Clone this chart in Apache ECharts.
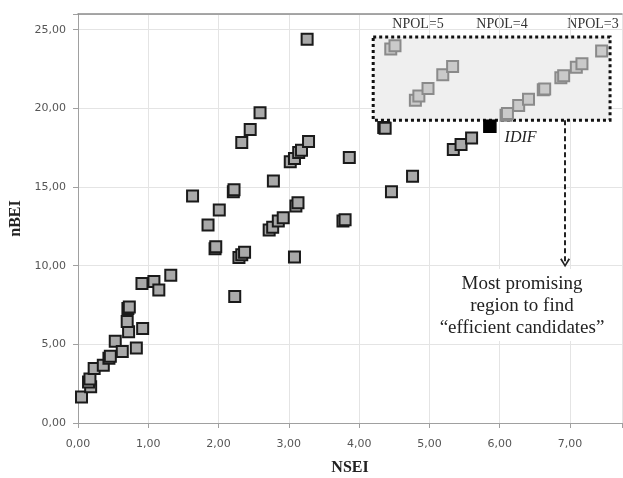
<!DOCTYPE html>
<html>
<head>
<meta charset="utf-8">
<script src="https://cdn.jsdelivr.net/npm/echarts@6/dist/echarts.min.js"></script>
<style>html,body{margin:0;padding:0;background:#fff;}#c{width:623px;height:478px;}</style>
</head>
<body>
<div id="c"></div>
<script>
// NSEI (x) / nBEI (y) values
var otherNSEI = [0.05,0.18,0.15,0.17,0.23,0.36,0.44,0.46,0.53,0.63,0.83,0.72,0.70,0.71,0.73,0.92,0.91,1.08,1.15,1.32,
  1.63,1.85,1.95,1.96,2.01,2.21,2.22,2.23,2.29,2.33,2.37,2.33,2.45,2.59,2.72,2.77,2.85,2.92,2.78,3.02,3.08,3.14,3.18,3.28,
  3.08,3.10,3.13,3.26,3.77,3.80,3.86,4.35,4.37,4.46,4.76,5.34,5.45,5.60];
var otherNBEI = [1.66,2.30,2.60,2.80,3.46,3.67,4.12,4.25,5.19,4.55,4.77,5.80,6.46,7.28,7.38,6.00,8.87,9.00,8.45,9.40,
  14.43,12.59,11.07,11.20,13.54,14.70,14.82,8.04,10.52,10.70,10.86,17.83,18.66,19.73,12.27,12.45,12.84,13.05,15.38,16.60,16.82,17.20,17.34,17.90,
  10.56,13.80,14.00,24.40,12.84,12.92,16.88,18.78,18.74,14.70,15.69,17.39,17.70,18.12];
var npolNSEI = [4.45,4.51,4.80,4.85,4.98,5.19,5.33,6.09,6.11,6.27,6.41,6.62,6.64,6.87,6.91,7.09,7.17,7.45];
var npolNBEI = [23.77,23.98,20.51,20.79,21.26,22.14,22.67,19.56,19.67,20.18,20.58,21.18,21.24,21.95,22.08,22.62,22.84,23.64];
var idifNSEI = [5.86];
var idifNBEI = [18.87];
var regionX = [4.20, 7.57];
var regionY = [19.25, 24.53];
var arrowX = 6.93;
var arrowY = [19.25, 10.18];
var xTicks = [0,1,2,3,4,5,6,7];
var yTicks = [0,5,10,15,20,25];

function pairs(xs, ys){ return xs.map(function(x,i){ return [x, ys[i]]; }); }
function fmt(v){ return v.toFixed(2).replace('.', ','); }

var chart = echarts.init(document.getElementById('c'), null, {renderer:'canvas'});
var serif = '"Liberation Serif", "DejaVu Serif", serif';
var sans = '"DejaVu Sans", Verdana, sans-serif';

var option = {
  backgroundColor: '#ffffff',
  animation: false,
  grid: {left: 78, right: 1, top: 14, bottom: 55, containLabel: false, outerBoundsMode: 'none'},
  xAxis: [{
    type: 'value', min: 0, max: 7.74, interval: 1,
    name: 'NSEI', nameLocation: 'middle', nameGap: 37,
    nameTextStyle: {fontFamily: serif, fontWeight: 'bold', fontSize: 16, color: '#222'},
    axisLine: {show: true, lineStyle: {color: '#a0a0a0', width: 1}},
    axisTick: {show: true, length: 5, lineStyle: {color: '#a0a0a0'}},
    axisLabel: {margin: 16, fontFamily: sans, fontSize: 11, color: '#555',
      formatter: function(v){ return xTicks.indexOf(Math.round(v*1000)/1000) >= 0 ? fmt(v) : ''; }},
    splitLine: {show: true, lineStyle: {color: '#e4e4e4', width: 1}}
  }, {
    type: 'value', min: 0, max: 7.74, position: 'top',
    axisLine: {show: true, onZero: false, lineStyle: {color: '#8c8c8c', width: 1.5}},
    axisTick: {show: false}, axisLabel: {show: false}, splitLine: {show: false}
  }],
  yAxis: {
    type: 'value', min: 0, max: 26, interval: 5,
    name: 'nBEI', nameLocation: 'middle', nameGap: 53, nameRotate: 90,
    nameTextStyle: {fontFamily: serif, fontWeight: 'bold', fontSize: 16, color: '#222'},
    axisLine: {show: true, lineStyle: {color: '#a0a0a0', width: 1}},
    axisTick: {show: true, length: 5, lineStyle: {color: '#a0a0a0'}},
    axisLabel: {margin: 12, fontFamily: sans, fontSize: 11, color: '#555',
      formatter: function(v){ return yTicks.indexOf(Math.round(v*1000)/1000) >= 0 ? fmt(v) : ''; }},
    splitLine: {show: true, lineStyle: {color: '#e4e4e4', width: 1}}
  },
  series: [
    {
      type: 'scatter', data: [], z: 1, silent: true,
      markArea: {
        silent: true,
        itemStyle: {color: '#efefef', borderColor: '#111', borderWidth: 3, borderType: [3, 3]},
        data: [[{coord: [regionX[0], regionY[1]]}, {coord: [regionX[1], regionY[0]]}]]
      },
      markLine: {
        silent: true,
        symbol: ['none', 'path://M5,0 L10,8.5 L8.4,9.5 L5,3.4 L1.6,9.5 L0,8.5 Z'],
        symbolSize: [10, 9],
        label: {show: false},
        lineStyle: {color: '#222', width: 2, type: [5, 3]},
        data: [[{coord: [arrowX, arrowY[0]]}, {coord: [arrowX, arrowY[1]]}]]
      }
    },
    {
      name: 'others', type: 'scatter', z: 3, symbol: 'rect', symbolSize: 11,
      itemStyle: {color: '#a9a9a9', borderColor: '#1a1a1a', borderWidth: 2, opacity: 1},
      data: pairs(otherNSEI, otherNBEI)
    },
    {
      name: 'npol', type: 'scatter', z: 3, symbol: 'rect', symbolSize: 11,
      itemStyle: {color: '#cacaca', borderColor: '#8a8a8a', borderWidth: 2, opacity: 1},
      data: pairs(npolNSEI, npolNBEI)
    },
    {
      name: 'IDIF', type: 'scatter', z: 4, symbol: 'rect', symbolSize: 12,
      itemStyle: {color: '#000', borderColor: '#000', borderWidth: 1.5, opacity: 1},
      label: {show: true, formatter: 'IDIF', position: 'right', distance: 8, offset: [0, 12],
        fontFamily: serif, fontStyle: 'italic', fontSize: 16, color: '#222'},
      data: pairs(idifNSEI, idifNBEI)
    }
  ],
  graphic: [
    {type: 'text', x: 418, y: 24, style: {text: 'NPOL=5', font: '14px ' + serif, fill: '#333', textAlign: 'center', textVerticalAlign: 'middle'}},
    {type: 'text', x: 502, y: 24, style: {text: 'NPOL=4', font: '14px ' + serif, fill: '#333', textAlign: 'center', textVerticalAlign: 'middle'}},
    {type: 'text', x: 593, y: 24, style: {text: 'NPOL=3', font: '14px ' + serif, fill: '#333', textAlign: 'center', textVerticalAlign: 'middle'}},
    {type: 'rect', shape: {x: 432, y: 269, width: 180, height: 72}, style: {fill: '#ffffff'}, z: 50},
    {type: 'text', x: 522, y: 306, z: 51, style: {text: 'Most promising\nregion to find\n\u201Cefficient candidates\u201D', font: '19px ' + serif, fill: '#222', textAlign: 'center', textVerticalAlign: 'middle', lineHeight: 22}}
  ]
};
chart.setOption(option);
</script>
</body>
</html>
